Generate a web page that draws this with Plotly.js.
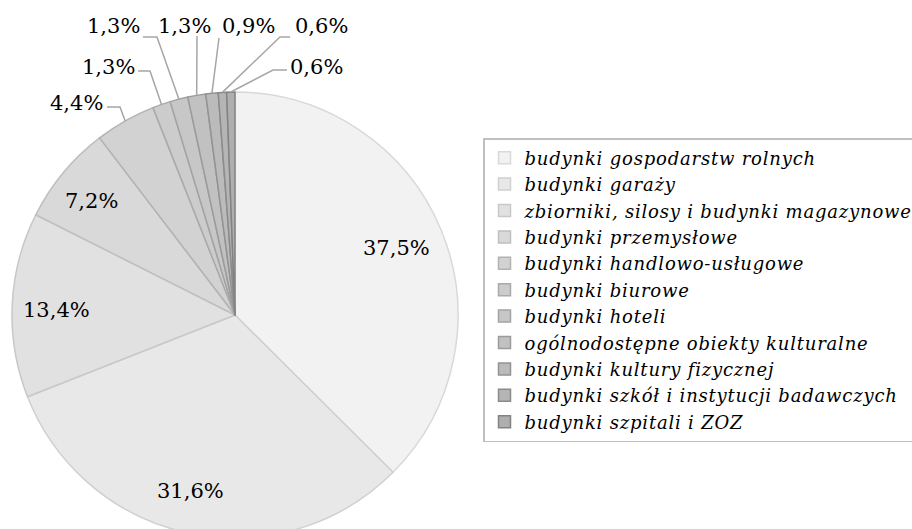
<!DOCTYPE html>
<html>
<head>
<meta charset="utf-8">
<script src="https://cdn.plot.ly/plotly-3.0.1.min.js"></script>
<style>
  html, body { margin: 0; padding: 0; overflow: hidden; background: #fff; }
  #chart { width: 912px; height: 547px; }
  .legendtext { letter-spacing: 0.8px; }
</style>
</head>
<body>
<div id="chart"></div>
<script>
const categories = [
  "budynki gospodarstw rolnych",
  "budynki garaży",
  "zbiorniki, silosy i budynki magazynowe",
  "budynki przemysłowe",
  "budynki handlowo-usługowe",
  "budynki biurowe",
  "budynki hoteli",
  "ogólnodostępne obiekty kulturalne",
  "budynki kultury fizycznej",
  "budynki szkół i instytucji badawczych",
  "budynki szpitali i ZOZ",
];
const shares = [37.5, 31.6, 13.4, 7.2, 4.4, 1.3, 1.3, 1.3, 0.9, 0.6, 0.6];

const fillColors = ["#f2f2f2", "#e8e8e8", "#e1e1e1", "#d9d9d9", "#d2d2d2", "#cccccc",
  "#c7c7c7", "#c1c1c1", "#bbbbbb", "#b5b5b5", "#afafaf"];
const lineColors = ["#d9d9d9", "#d0d0d0", "#c8c8c8", "#bfbfbf", "#b2b2b2", "#aaaaaa",
  "#a3a3a3", "#9b9b9b", "#939393", "#8b8b8b", "#838383"];

// page geometry (px) - pie centre and radius
const W = 912, H = 547;
const cx = 235, cy = 315, R = 223;

// label placement (px): text centre for every slice
const labelPos = [[396, 248], [190, 491], [56, 310], [91, 201], [76, 103], [108, 67],
  [113, 26], [184, 26], [248, 26], [321, 26], [316, 67]];
// leader lines for the thin slices: [start x, start y, elbow x]
const leaders = {
  4: [107, 107, 120],
  5: [138, 71, 150],
  6: [143, 37, 157],
  7: [197, 36, 197],
  8: [219, 38, 219],
  9: [290, 37, 280],
  10: [287, 70, 273],
};

const fmt = v => v.toFixed(1).replace(".", ",") + "%";
const px = x => x / W;
const py = y => 1 - y / H;

const total = shares.reduce((a, b) => a + b, 0);
const annotations = [];
const shapes = [];
let cum = 0;
shares.forEach((v, i) => {
  const mid = (cum + v / 2) / total * 2 * Math.PI;
  cum += v;
  annotations.push({
    text: fmt(v), x: px(labelPos[i][0]), y: py(labelPos[i][1]), xref: "paper", yref: "paper",
    showarrow: false, xanchor: "center", yanchor: "middle",
    font: { family: "DejaVu Serif", size: 21, color: "#000" },
  });
  const o = leaders[i];
  if (!o) return;
  const ex = cx + R * Math.sin(mid), ey = cy - R * Math.cos(mid);
  shapes.push({
    type: "path", xref: "paper", yref: "paper",
    path: `M ${px(o[0])} ${py(o[1])} L ${px(o[2])} ${py(o[1])} L ${px(ex)} ${py(ey)}`,
    line: { color: "#a6a6a6", width: 1.5 },
  });
});

const trace = {
  type: "pie",
  labels: categories,
  values: shares,
  sort: false,
  direction: "clockwise",
  rotation: 0,
  marker: { colors: fillColors, line: { color: lineColors, width: 1.5 } },
  textinfo: "none",
  hoverinfo: "label+percent",
  domain: { x: [px(cx - R), px(cx + R)], y: [py(cy + R), py(cy - R)] },
};

const layout = {
  width: W,
  height: H,
  margin: { l: 0, r: 0, t: 0, b: 0, autoexpand: false },
  paper_bgcolor: "#fff",
  showlegend: true,
  legend: {
    x: px(483), y: py(138), xanchor: "left", yanchor: "top",
    bordercolor: "#bfbfbf", borderwidth: 1.5, bgcolor: "#fff",
    font: { family: "DejaVu Serif", size: 18, style: "italic", color: "#000" },
  },
  annotations: annotations,
  shapes: shapes,
};

Plotly.newPlot("chart", [trace], layout, { displayModeBar: false, staticPlot: true });
</script>
</body>
</html>
